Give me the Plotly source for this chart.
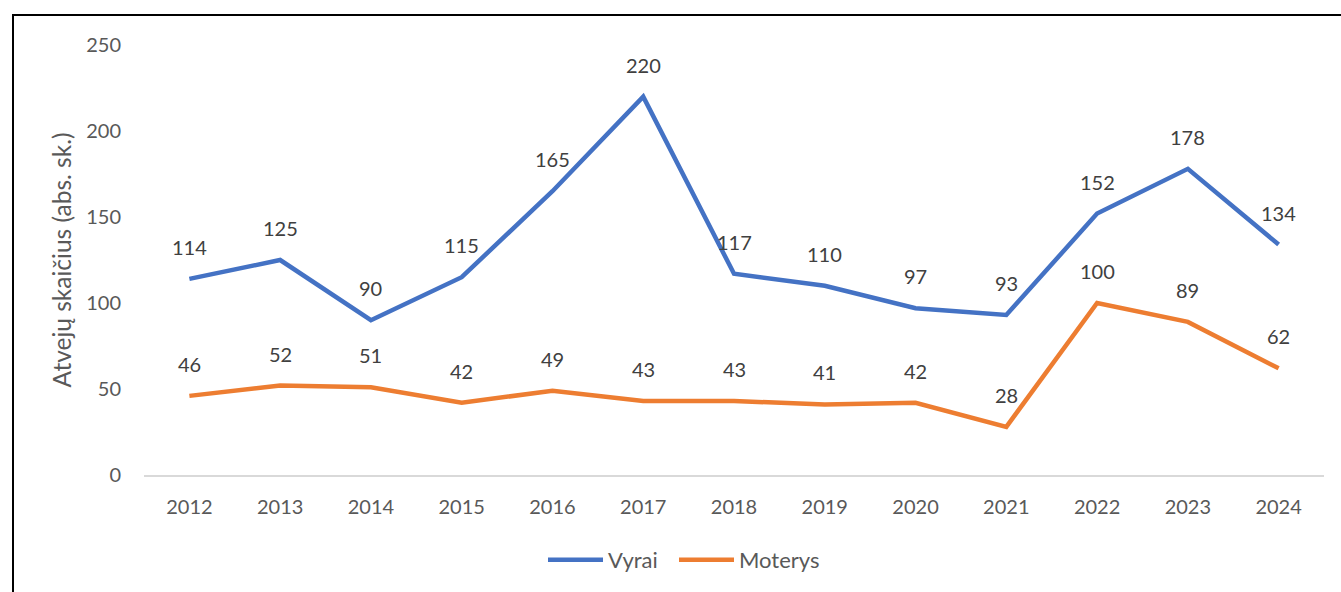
import plotly.graph_objects as go

years = ["2012", "2013", "2014", "2015", "2016", "2017", "2018", "2019", "2020", "2021", "2022", "2023", "2024"]
vyrai = [114, 125, 90, 115, 165, 220, 117, 110, 97, 93, 152, 178, 134]
moterys = [46, 52, 51, 42, 49, 43, 43, 41, 42, 28, 100, 89, 62]
y_ticks = [0, 50, 100, 150, 200, 250]

W, H = 1341, 592
L, R, T, B = 144, 17, 45, 116
pw, ph = W - L - R, H - T - B

FONT = "Lato"
GREY = "#595959"
LABEL = "#404040"
BLUE = "#4472C4"
ORANGE = "#ED7D31"

xpos = list(range(len(years)))

fig = go.Figure()
for name, vals, col, leg in [("Vyrai", vyrai, BLUE, "legend"), ("Moterys", moterys, ORANGE, "legend2")]:
    fig.add_trace(go.Scatter(x=xpos, y=vals, mode="lines", name=name, legend=leg,
                             line=dict(color=col, width=4.5), hoverinfo="skip"))
    for xv, yv in zip(xpos, vals):
        fig.add_annotation(x=xv, y=yv, xref="x", yref="y", text=str(yv),
                           showarrow=False, yshift=32,
                           font=dict(family=FONT, size=20, color=LABEL))

leg_common = dict(orientation="h", xanchor="left", y=(T + ph - 560) / ph, yanchor="middle",
                  font=dict(family=FONT, size=22, color=GREY), itemwidth=55,
                  bgcolor="rgba(0,0,0,0)")

fig.update_layout(
    width=W, height=H,
    margin=dict(l=L, r=R, t=T, b=B),
    paper_bgcolor="white", plot_bgcolor="white",
    font=dict(family=FONT, size=20, color=GREY),
    showlegend=True,
    legend=dict(x=(543 - L) / pw, **leg_common),
    legend2=dict(x=(674 - L) / pw, **leg_common),
    xaxis=dict(tickvals=xpos, ticktext=years, showgrid=False, zeroline=False,
               showline=True, linecolor="#D9D9D9",
               linewidth=1.5, ticks="", ticklabelstandoff=13, range=[-0.5, len(years) - 0.5],
               tickfont=dict(family=FONT, size=20, color=GREY)),
    yaxis=dict(range=[0, 250], tickvals=y_ticks, showgrid=False, zeroline=False,
               showline=False, ticks="", ticklabelstandoff=22,
               tickfont=dict(family=FONT, size=20, color=GREY),
               title=dict(text="Atvejų skaičius (abs. sk.)", standoff=7,
                          font=dict(family=FONT, size=24.5, color=GREY))),
)

# outer frame (partially clipped at right/bottom, as in reference)
fig.add_shape(type="rect", xref="paper", yref="paper",
              x0=(13 - L) / pw, x1=(W + 10 - L) / pw,
              y0=(T + ph - (H + 10)) / ph, y1=(T + ph - 15) / ph,
              line=dict(color="black", width=2), fillcolor="rgba(0,0,0,0)", layer="below")

fig.write_html("out.html", config={"displayModeBar": False},
               post_script="document.body.style.margin='0';document.body.style.overflow='hidden';")
